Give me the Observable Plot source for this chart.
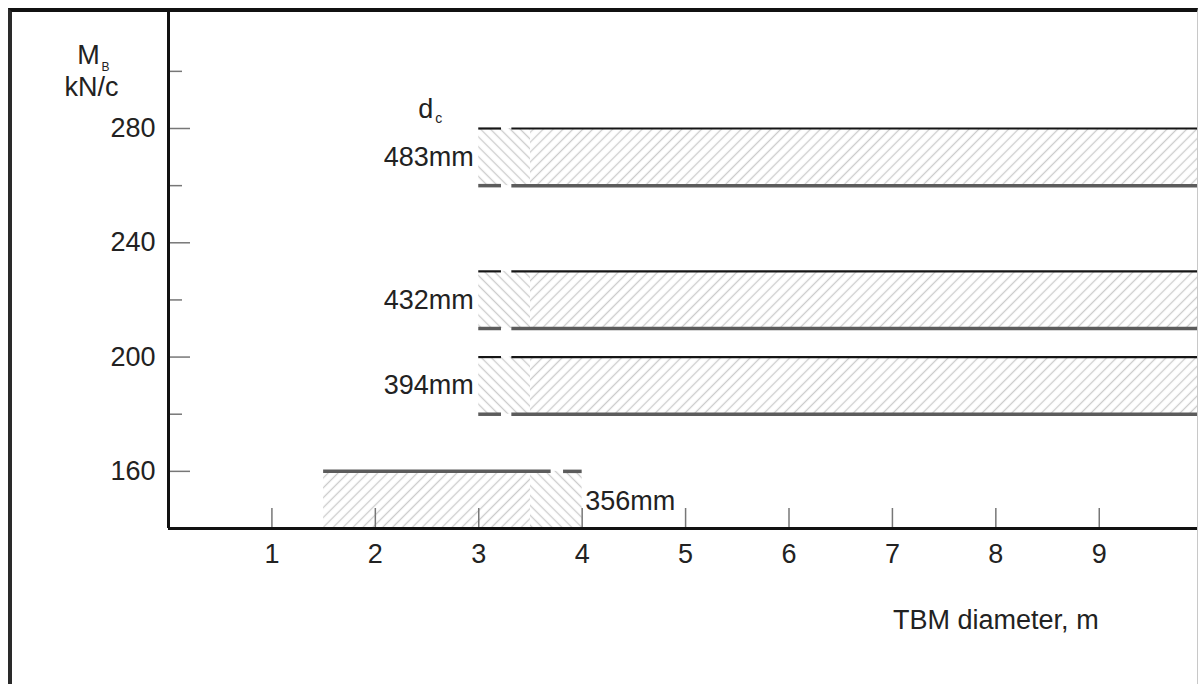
<!DOCTYPE html>
<html><head><meta charset="utf-8">
<script src="https://cdn.jsdelivr.net/npm/d3@7"></script>
<script src="https://cdn.jsdelivr.net/npm/@observablehq/plot@0.6"></script>
<style>
html,body{margin:0;padding:0;background:#fff;}
#frame{position:absolute;left:8px;top:8px;width:1185px;height:672px;border-left:4px solid #2a2a2a;border-top:4px solid #111;border-right:1px solid #c8c8c8;overflow:hidden;background:#fff;}
</style></head><body><div id="frame"></div>
<script>
// ---- data ----
const bandLabels = ["483mm", "432mm", "394mm", "356mm"];
const bandLow = [260, 210, 180, 140];
const bandHigh = [280, 230, 200, 160];
const bandStart = [3, 3, 3, 1.5];
const bandEnd = [10, 10, 10, 4];
const chevronAt = [3.5, 3.5, 3.5, 3.5];
const gapFrom = [3.22, 3.22, 3.22, 3.7];
const gapTo = [3.32, 3.32, 3.32, 3.82];
const xTicks = [1, 2, 3, 4, 5, 6, 7, 8, 9];
const yMajor = [160, 200, 240, 280];
const yMinor = [180, 220, 260, 300];
const xTitle = "TBM diameter, m";
const yTitle = ["M", "B", "kN/c"];
const dTitle = ["d", "c"];

// ---- derived tables ----
const bands = bandLabels.map((label, i) => ({
  label, low: bandLow[i], high: bandHigh[i], start: bandStart[i], end: bandEnd[i],
  chev: chevronAt[i], g0: gapFrom[i], g1: gapTo[i],
  labelLeft: (bandEnd[i] - chevronAt[i]) > (chevronAt[i] - bandStart[i])
}));
const hatchRects = bands.flatMap(b => [
  {x1: b.start, x2: b.chev, y1: b.low, y2: b.high, dir: b.labelLeft ? "back" : "fwd"},
  {x1: b.chev, x2: b.end, y1: b.low, y2: b.high, dir: b.labelLeft ? "fwd" : "back"}
]);
const edges = bands.flatMap(b => {
  const segs = [[b.start, b.g0], [b.g1, b.end]];
  const out = segs.map(([a, c]) => ({y: b.high, x1: a, x2: c, kind: b.labelLeft ? "dark" : "gray"}));
  if (b.labelLeft) segs.forEach(([a, c]) => out.push({y: b.low, x1: a, x2: c, kind: "gray"}));
  return out;
});

const FS = 27;
const txt = "#222";
const chart = Plot.plot({
  width: 1185, height: 672,
  marginLeft: 156, marginRight: 0, marginTop: 0, marginBottom: 156,
  style: {fontFamily: "'Liberation Sans', Arial, sans-serif", fontSize: FS + "px", color: txt, background: "transparent"},
  x: {domain: [0, 9.95], label: null},
  y: {domain: [140, 320.6], label: null},
  marks: [
    Plot.rect(hatchRects.filter(d => d.dir === "fwd"), {x1: "x1", x2: "x2", y1: "y1", y2: "y2", fill: "url(#hatchFwd)"}),
    Plot.rect(hatchRects.filter(d => d.dir === "back"), {x1: "x1", x2: "x2", y1: "y1", y2: "y2", fill: "url(#hatchBack)"}),
    Plot.ruleY(edges.filter(d => d.kind === "gray"), {y: "y", x1: "x1", x2: "x2", stroke: "#5c5c5c", strokeWidth: 3.5}),
    Plot.ruleY(edges.filter(d => d.kind === "dark"), {y: "y", x1: "x1", x2: "x2", stroke: "#161616", strokeWidth: 2.2}),
    Plot.axisX(xTicks, {tickSize: -20, tickFormat: () => "", stroke: "#777", strokeWidth: 1.5, label: null}),
    Plot.axisX(xTicks, {tickSize: 0, tickPadding: 15, fontSize: FS, fill: txt, label: null}),
    Plot.axisY(yMajor, {tickSize: -22, tickFormat: () => "", stroke: "#777", strokeWidth: 1.5, label: null}),
    Plot.axisY(yMinor, {tickSize: -14, tickFormat: () => "", stroke: "#777", strokeWidth: 1.5, label: null}),
    Plot.axisY(yMajor, {tickSize: 0, tickPadding: 13, fontSize: FS, fill: txt, label: null}),
    Plot.ruleX([0], {stroke: "#111", strokeWidth: 3}),
    Plot.ruleY([140], {stroke: "#111", strokeWidth: 3}),
    Plot.text(bands.filter(b => b.labelLeft), {x: "start", y: b => (b.low + b.high) / 2, text: "label", textAnchor: "end", dx: -5, fontSize: FS, fill: txt}),
    Plot.text(bands.filter(b => !b.labelLeft), {x: "end", y: b => (b.low + b.high) / 2, text: "label", textAnchor: "start", dx: 3, dy: 1, fontSize: FS, fill: txt}),
    Plot.text([dTitle[0]], {x: () => bandStart[0], y: () => bandHigh[0], text: d => d, textAnchor: "middle", lineAnchor: "bottom", dx: -53, dy: -11, fontSize: FS, fill: txt}),
    Plot.text([dTitle[1]], {x: () => bandStart[0], y: () => bandHigh[0], text: d => d, textAnchor: "middle", lineAnchor: "bottom", dx: -40, dy: -6, fontSize: 14, fill: txt}),
    Plot.text([yTitle[0]], {frameAnchor: "top-left", text: d => d, textAnchor: "middle", lineAnchor: "bottom", dx: -80, dy: 51, fontSize: FS, fill: txt}),
    Plot.text([yTitle[1]], {frameAnchor: "top-left", text: d => d, textAnchor: "middle", lineAnchor: "bottom", dx: -63, dy: 58, fontSize: 12, fill: txt}),
    Plot.text([yTitle[2]], {frameAnchor: "top-left", text: d => d, textAnchor: "middle", lineAnchor: "bottom", dx: -77, dy: 83, fontSize: FS, fill: txt}),
    Plot.text([xTitle], {x: () => 8, frameAnchor: "bottom", text: d => d, textAnchor: "middle", lineAnchor: "bottom", dy: 100, fontSize: FS, fill: txt})
  ]
});

const defs = d3.select(chart).insert("defs", ":first-child");
for (const [id, ang] of [["hatchFwd", 45], ["hatchBack", -45]]) {
  const s = 7;
  const p = defs.append("pattern").attr("id", id).attr("patternUnits", "userSpaceOnUse")
    .attr("width", s).attr("height", s).attr("patternTransform", `rotate(${ang})`);
  p.append("rect").attr("width", s).attr("height", s).attr("fill", "#fff");
  p.append("line").attr("x1", s / 2).attr("x2", s / 2).attr("y1", -1).attr("y2", s + 1)
    .attr("stroke", "#cccccc").attr("stroke-width", 1.3);
}
document.getElementById("frame").appendChild(chart);
</script></body></html>
